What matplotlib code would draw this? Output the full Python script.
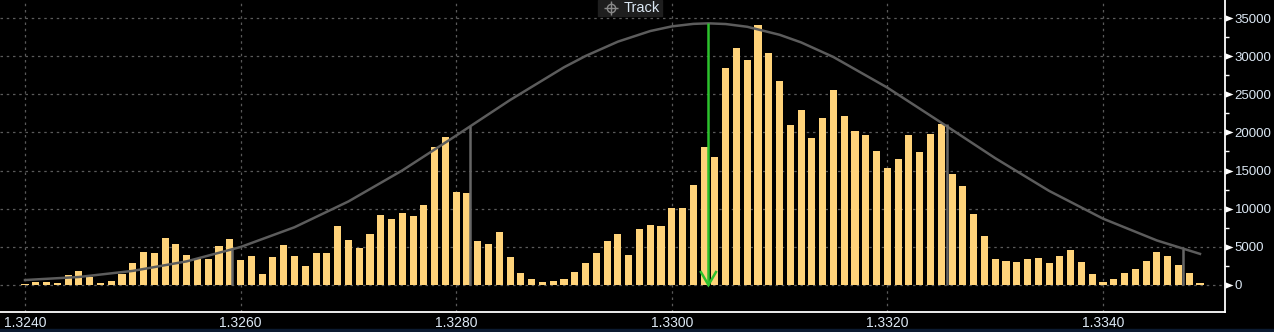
"""
Price distribution histogram with fitted curve (terminal style, dark)
"""
import numpy as np
import matplotlib
matplotlib.use('Agg')
import matplotlib.pyplot as plt
from matplotlib.path import Path
from matplotlib.patches import Rectangle
from matplotlib.lines import Line2D

# price buckets: 1.3240 .. 1.3349, one per pip
price_start = 1.3240
price_step = 0.0001
volumes = [
    100, 400, 400, 260, 1300, 1800, 1100, 260, 520, 1480,
    2870, 4300, 4170, 6130, 5350, 3910, 3390, 3390, 5090, 6000,
    3260, 3780, 1430, 3650, 5220, 3780, 2500, 4170, 4170, 7700,
    5870, 4870, 6650, 9130, 8610, 9390, 9000, 10430, 18130, 19430,
    12130, 12000, 5740, 5350, 6910, 3650, 1570, 780, 390, 520,
    780, 1700, 2870, 4170, 5740, 6650, 3910, 7300, 7830, 7700,
    10040, 10040, 13170, 18130, 16830, 28430, 31040, 29480, 34040, 30390,
    26740, 21000, 22960, 19300, 21910, 25570, 22170, 20220, 19700, 17610,
    15390, 16570, 19700, 17480, 19830, 21130, 14610, 13040, 9260, 6390,
    3390, 3130, 3000, 3390, 3520, 2870, 3780, 4570, 3000, 1430,
    390, 780, 1570, 2090, 3130, 4300, 3780, 2610, 1570, 260,
]
prices = [round(price_start + i * price_step, 4) for i in range(len(volumes))]

# fitted distribution curve
curve_x = [1.3240, 1.3245, 1.3250, 1.3255, 1.3260, 1.3265, 1.3270, 1.3275,
           1.3280, 1.3285, 1.3290, 1.3292, 1.3295, 1.3298, 1.3300, 1.3302,
           1.33034, 1.3305, 1.3307, 1.3310, 1.3312, 1.3315, 1.3320, 1.3325,
           1.3330, 1.3335, 1.3340, 1.3345, 1.3349]
curve_y = [650, 1050, 1850, 3100, 4980, 7570, 10950, 15020,
           19590, 24250, 28540, 30020, 31900, 33290, 33900, 34230,
           34300, 34210, 33850, 32800, 31800, 29880, 25870, 21280,
           16630, 12340, 8700, 5840, 4080]

# band markers (+/-1 and 2 sigma) and the mean
band_x = [1.32592, 1.32813, 1.33255, 1.33474]
band_y = [4700, 20800, 21100, 4750]
mean_x = 1.33034
mean_y = 34300

x_ticks = [1.3240, 1.3260, 1.3280, 1.3300, 1.3320, 1.3340]
y_ticks = [0, 5000, 10000, 15000, 20000, 25000, 30000, 35000]

BG = '#000000'
BAR = '#ffd37a'
TXT = '#dce8f4'


def main():
    plt.rcParams['font.family'] = ['Liberation Sans', 'DejaVu Sans']
    fig = plt.figure(figsize=(12.74, 3.32), dpi=100, facecolor=BG)
    ax = fig.add_axes([0, 20 / 332, 1225 / 1274, 312 / 332])
    ax.set_facecolor(BG)

    ax.bar(prices, volumes, width=0.000066, color=BAR, zorder=2)
    ax.plot(curve_x, curve_y, color='#5c5c5c', lw=1.8, zorder=3)
    ax.vlines(band_x, 0, band_y, color='#666666', lw=1.8, zorder=3)

    # mean marker with arrow head
    ax.vlines([mean_x], 0, mean_y, color='#2cc22c', lw=1.8, zorder=4)
    ax.plot([mean_x - 0.00007, mean_x, mean_x + 0.00007], [1700, 0, 1700],
            color='#2cc22c', lw=1.8, zorder=4, solid_joinstyle='miter')

    ax.set_xlim(1.323768, 1.335132)
    ax.set_ylim(-3540, 37360)

    ax.set_xticks(x_ticks)
    ax.set_xticklabels([f'{v:.4f}' for v in x_ticks])
    ax.set_yticks(y_ticks)
    ax.set_yticks(np.arange(2500, 37500, 5000), minor=True)
    ax.set_yticklabels([str(v) for v in y_ticks])
    ax.yaxis.tick_right()
    ax.tick_params(axis='x', length=0, pad=3, labelsize=10, labelcolor=TXT)
    ax.tick_params(axis='y', which='major', length=0, pad=7,
                   labelsize=9.5, labelcolor=TXT)
    ax.tick_params(axis='y', which='minor', length=3, width=1,
                   color='white', direction='out')

    ax.grid(True, which='major', color='#5a5a5a', lw=0.9,
            linestyle=(0, (2, 3)), zorder=0)
    ax.set_axisbelow(True)

    for side in ('left', 'top'):
        ax.spines[side].set_visible(False)
    for side in ('right', 'bottom'):
        ax.spines[side].set_color('white')
        ax.spines[side].set_linewidth(1.3)

    # triangle tick markers on the right axis
    tri = Path([(0, -0.4), (0, 0.4), (1, 0), (0, -0.4)])
    ax.plot([1] * len(y_ticks), y_ticks, linestyle='none', marker=tri,
            markersize=11.5, color='white', markeredgewidth=0,
            transform=ax.get_yaxis_transform(), clip_on=False, zorder=5)

    # bottom strip
    fig.patches.append(Rectangle((0, 0), 1, 3 / 332, transform=fig.transFigure,
                                 color='#0b1a30', zorder=0))

    # "Track" button
    fig.patches.append(Rectangle((598 / 1274, 316 / 332), 64 / 1274, 16 / 332,
                                 transform=fig.transFigure, color='#1e1e1e',
                                 zorder=6))
    cx, cy = 611 / 1274, 324 / 332
    fig.add_artist(Line2D([cx], [cy], marker='o', markersize=6, fillstyle='none',
                          color='#8a8a8a', markeredgewidth=1,
                          transform=fig.transFigure, zorder=7))
    fig.add_artist(Line2D([cx], [cy], marker='+', markersize=10,
                          color='#8a8a8a', markeredgewidth=1,
                          transform=fig.transFigure, zorder=7))
    fig.text(624 / 1274, cy, 'Track', color=TXT, fontsize=10.5,
             va='center', ha='left', zorder=8)

    fig.savefig('out.png', dpi=100, facecolor=BG)
    plt.close(fig)


if __name__ == '__main__':
    main()
